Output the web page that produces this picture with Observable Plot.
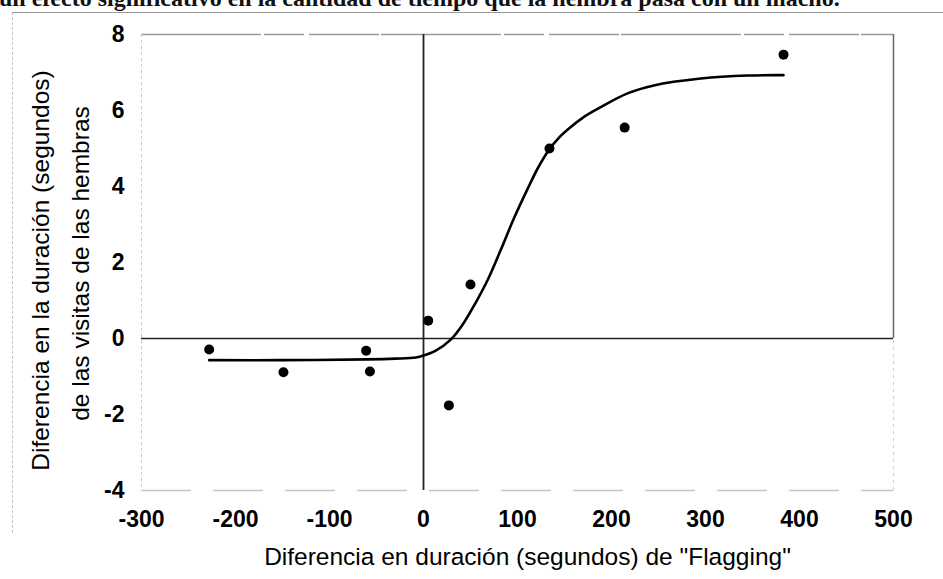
<!DOCTYPE html>
<html>
<head>
<meta charset="utf-8">
<script src="https://cdn.jsdelivr.net/npm/d3@7"></script>
<script src="https://cdn.jsdelivr.net/npm/@observablehq/plot@0.6"></script>
<style>
  html, body { margin: 0; padding: 0; background: #fff; }
  #wrap { position: relative; width: 943px; height: 579px; overflow: hidden; }
  #cap { position: absolute; left: -1px; top: -14px; white-space: nowrap; line-height: 24px;
         font-family: "Liberation Serif", "DejaVu Serif", serif; font-weight: bold; font-size: 24px; color: #111; }
  #box { position: absolute; left: 12px; top: 12px; width: 940px; height: 520px;
         border-top: 1.5px solid #999; border-left: 1px dashed #c4c4c4; }
  #chart { position: absolute; left: 0; top: 0; }
</style>
</head>
<body>
<div id="wrap">
  <div id="box"></div>
  <div id="cap">un efecto significativo en la cantidad de tiempo que la hembra pasa con un macho.</div>
  <div id="chart"></div>
</div>
<script>
// Observed data points
const pointX = [-228, -149, -61, -57, 5, 27, 50, 134, 214, 383];
const pointY = [-0.29, -0.89, -0.32, -0.87, 0.47, -1.76, 1.42, 5.0, 5.55, 7.47];

// Fitted curve
const curveX = [-228, -150, -60, -30, -8, 0, 13, 29, 41, 55, 69, 82, 96, 111, 122, 133, 144, 156, 170, 188, 217, 245, 295, 345, 383];
const curveY = [-0.57, -0.57, -0.55, -0.53, -0.50, -0.45, -0.32, -0.03, 0.34, 0.92, 1.58, 2.32, 3.15, 3.95, 4.5, 4.95, 5.28, 5.55, 5.82, 6.08, 6.45, 6.66, 6.84, 6.92, 6.93];

const xTicks = [-300, -200, -100, 0, 100, 200, 300, 400, 500];
const yTicks = [-4, -2, 0, 2, 4, 6, 8];

const xLabel = 'Diferencia en duración (segundos) de "Flagging"';
const yLabel1 = "Diferencia en la duración (segundos)";
const yLabel2 = "de las visitas de las hembras";

const points = pointX.map((x, i) => ({x, y: pointY[i]}));
const curve = curveX.map((x, i) => ({x, y: curveY[i]}));

const font = "'Liberation Sans', Arial, sans-serif";

const chart = Plot.plot({
  width: 943,
  height: 579,
  marginLeft: 141,
  marginRight: 50,
  marginTop: 34,
  marginBottom: 89,
  style: {fontFamily: font, background: "transparent", color: "#000"},
  x: {domain: [-300, 500]},
  y: {domain: [-4, 8]},
  marks: [
    // frame edges (faint, as scanned)
    Plot.ruleY([8], {stroke: "#9a9a9a", strokeWidth: 1.5, strokeDasharray: "120,3,40,5,70,2"}),
    Plot.ruleY([-4], {stroke: "#c4c4c4", strokeWidth: 1.5, strokeDasharray: "50,22"}),
    Plot.ruleX([-300], {stroke: "#c8c8c8", strokeWidth: 1, strokeDasharray: "3,3"}),
    Plot.ruleX([500], {y1: 0, y2: 8, stroke: "#666", strokeWidth: 1.5}),
    Plot.ruleX([500], {y1: -4, y2: 0, stroke: "#ccc", strokeWidth: 1, strokeDasharray: "3,4"}),
    // zero axes
    Plot.ruleY([0], {stroke: "#222", strokeWidth: 1.3}),
    Plot.ruleX([0], {stroke: "#222", strokeWidth: 1.8}),
    // curve
    Plot.line(curve, {x: "x", y: "y", stroke: "#000", strokeWidth: 2.6, curve: "catmull-rom"}),
    // points
    Plot.dot(points, {x: "x", y: "y", r: 5, fill: "#000", stroke: "none"}),
    // axes
    Plot.axisX(xTicks, {tickSize: 0, tickPadding: 20, tickFormat: d => String(d), fontSize: 23, fontWeight: "bold", label: null}),
    Plot.axisY(yTicks, {tickSize: 0, tickPadding: 17, tickFormat: d => String(d), fontSize: 23, fontWeight: "bold", label: null}),
    // axis titles
    Plot.text([xLabel], {frameAnchor: "bottom", dx: 10, dy: 67, fontSize: 24.5, textAnchor: "middle", lineAnchor: "middle", text: d => d}),
    Plot.text([yLabel1], {frameAnchor: "left", dx: -100, dy: 8, rotate: -90, fontSize: 24.5, textAnchor: "middle", lineAnchor: "middle", text: d => d}),
    Plot.text([yLabel2], {frameAnchor: "left", dx: -60, dy: 1, rotate: -90, fontSize: 24.5, textAnchor: "middle", lineAnchor: "middle", text: d => d})
  ]
});
document.getElementById("chart").appendChild(chart);
</script>
</body>
</html>
